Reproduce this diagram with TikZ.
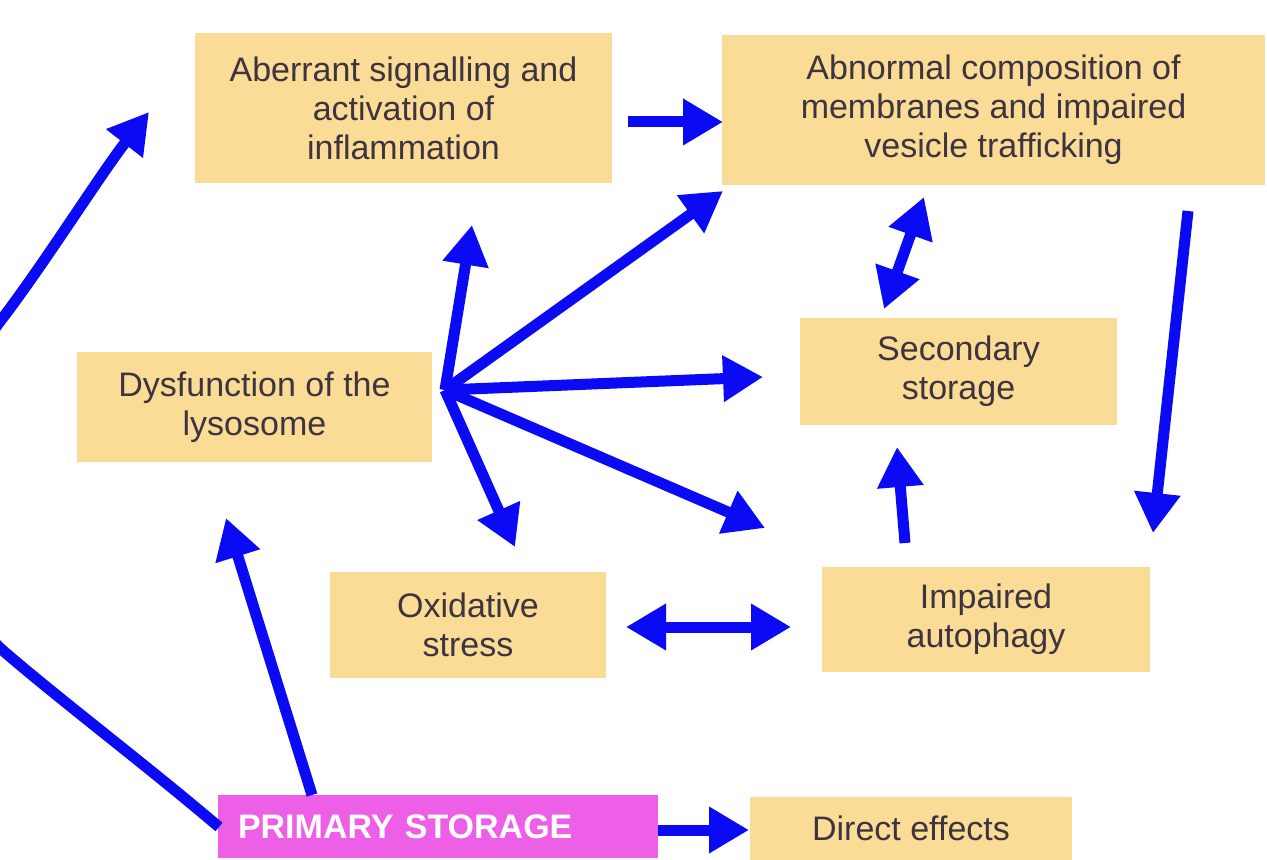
\documentclass[tikz,border=0pt]{standalone}
\usepackage{fontspec}
\setmainfont{Liberation Sans}
\usetikzlibrary{arrows.meta}
\definecolor{boxfill}{RGB}{250,220,150}
\definecolor{pinkfill}{RGB}{238,95,232}
\definecolor{arrowblue}{RGB}{10,10,245}
\definecolor{textgrey}{RGB}{62,52,64}
\begin{document}
\begin{tikzpicture}[x=0.5pt,y=-0.5pt,
  box/.style={fill=boxfill, draw=none, align=center, text=textgrey,
    font=\fontsize{17}{19.5}\selectfont, inner sep=0pt},
  conn/.style={draw=arrowblue, line width=5.5pt, -{Triangle[length=20pt,width=22pt]}},
  dconn/.style={draw=arrowblue, line width=5.5pt,
    {Triangle[length=20pt,width=22pt]}-{Triangle[length=20pt,width=22pt]}}]
\useasboundingbox (0,0) rectangle (1267,860);
\fill[white] (0,0) rectangle (1267,860);
\clip (0,0) rectangle (1267,860);

% boxes
\node[box, minimum width=208.5pt, minimum height=75pt] (aber) at (403.5,108)
  {Aberrant signalling and\\activation of\\inflammation};
\node[box, minimum width=271.5pt, minimum height=75pt] (abn) at (993.5,110)
  {Abnormal composition of\\membranes and impaired\\vesicle trafficking};
\node[box, minimum width=177.5pt, minimum height=55pt] (dys) at (254.5,407)
  {Dysfunction of the\\lysosome};
\node[box, minimum width=158.5pt, minimum height=53.5pt] (sec) at (958.5,371.5)
  {Secondary\\storage};
\node[box, minimum width=138pt, minimum height=53pt] (oxi) at (468,625)
  {Oxidative\\stress};
\node[box, minimum width=164pt, minimum height=52.5pt] (aut) at (986,619.5)
  {Impaired\\autophagy};
\node[fill=pinkfill, text=white, font=\fontsize{17}{19.5}\selectfont\bfseries,
  minimum width=220pt, minimum height=31.5pt, text width=200pt, inner xsep=10pt,
  inner ysep=0pt, align=left] (prim) at (438,826.5) {PRIMARY STORAGE};
\node[box, minimum width=161pt, minimum height=31.5pt] (dir) at (911,828.5)
  {Direct effects};

% connector end points
\coordinate (hub) at (445,390);
\coordinate (aberOut) at (628,122);
\coordinate (abnIn) at (723,122);
\coordinate (aberIn) at (472,225);
\coordinate (abnInB) at (723,191);
\coordinate (secIn) at (763,377);
\coordinate (autIn) at (765,528);
\coordinate (oxiIn) at (515,547);
\coordinate (abnB) at (924,197);
\coordinate (secT) at (884,309);
\coordinate (abnOut) at (1188,211);
\coordinate (autInR) at (1153,533);
\coordinate (autOut) at (905,543);
\coordinate (secInB) at (897,447);
\coordinate (oxiR) at (626,627);
\coordinate (autL) at (791,627);
\coordinate (primTop) at (312,795);
\coordinate (dysIn) at (226,518);
\coordinate (primR) at (658,830);
\coordinate (dirIn) at (749,830);
\coordinate (primL) at (219,827);
\coordinate (aberInL) at (149,112);

% connectors
\draw[conn] (aberOut) -- (abnIn);
\draw[conn] (hub) -- (aberIn);
\draw[conn] (hub) -- (abnInB);
\draw[conn] (hub) -- (secIn);
\draw[conn] (hub) -- (autIn);
\draw[conn] (hub) -- (oxiIn);
\draw[dconn] (secT) -- (abnB);
\draw[conn] (abnOut) -- (autInR);
\draw[conn] (autOut) -- (secInB);
\draw[dconn] (oxiR) -- (autL);
\draw[conn] (primTop) -- (dysIn);
\draw[conn] (primR) -- (dirIn);
\draw[conn] (primL) .. controls (140,760) and (60,700) .. (0,648)
  .. controls (-90,560) and (-60,395) .. (5,315)
  .. controls (50,255) and (100,175) .. (aberInL);
\end{tikzpicture}
\end{document}
